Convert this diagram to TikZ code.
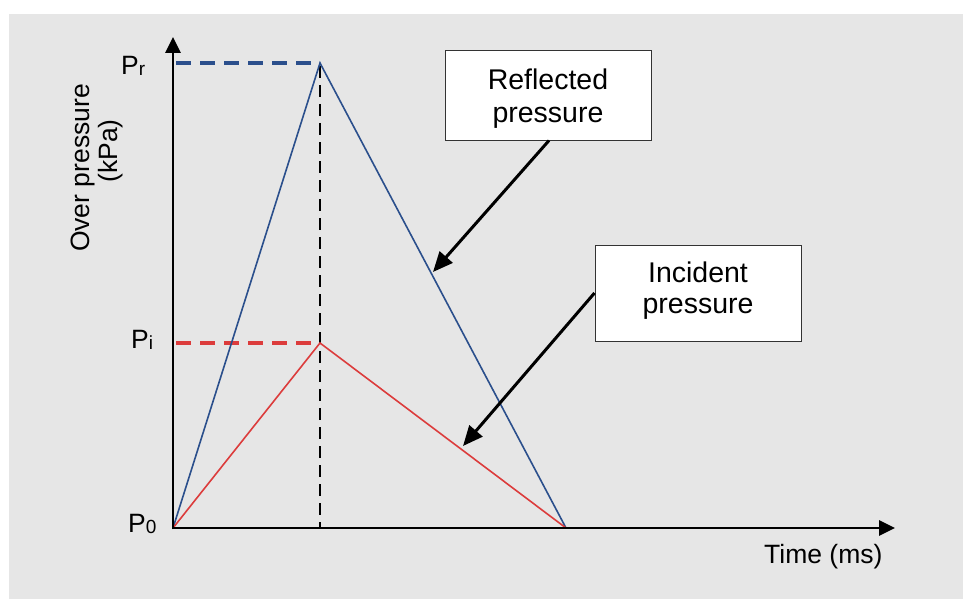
\documentclass[tikz,border=0pt]{standalone}
\usepackage{fontspec}
\setmainfont{Liberation Sans}
\usetikzlibrary{arrows.meta}
\definecolor{bg}{HTML}{E6E6E6}
\definecolor{pblue}{HTML}{2B4F8C}
\definecolor{pred}{HTML}{DC3C3C}
\definecolor{boxline}{HTML}{333333}
\begin{document}
\begin{tikzpicture}[x=1pt,y=-1pt,
  axisline/.style={line width=2.7pt,-{Triangle[length=16pt,width=15pt]}},
  callout/.style={line width=3pt,-{Triangle[length=20pt,width=17pt]}},
  lbl/.style={font=\fontsize{26.5}{30}\selectfont, inner sep=0pt},
  infobox/.style={draw=boxline, fill=white, line width=1pt, minimum width=206pt,
    align=center, inner sep=0pt},
  curveR/.style={pblue, line width=1.6pt, line join=miter},
  curveI/.style={pred, line width=1.6pt, line join=miter},
  levR/.style={pblue, line width=4.5pt, dash pattern=on 15pt off 9pt},
  levI/.style={pred, line width=4.5pt, dash pattern=on 15pt off 9pt},
  peakline/.style={black, line width=2.6pt, dash pattern=on 12pt off 7pt}
]
\useasboundingbox (0,0) rectangle (963,599);
\fill[bg] (9,14) rectangle (963,599);

% key points
\coordinate (O) at (173,528);
\coordinate (ytop) at (173,37);
\coordinate (xend) at (895,528);
\coordinate (pkR) at (320,63);
\coordinate (pkI) at (320,343);
\coordinate (lvR) at (176,63);
\coordinate (lvI) at (176,343);
\coordinate (pkB) at (320,528);
\coordinate (pkT) at (320,66);
\coordinate (E) at (566,528);
\coordinate (tipR) at (433,272);
\coordinate (tipI) at (463,446);

% dashed levels
\draw[levR] (lvR) -- (pkR);
\draw[levI] (lvI) -- (pkI);
\draw[peakline] (pkT) -- (pkB);

% pressure curves
\draw[curveR] (O) -- (pkR) -- (E);
\draw[curveI] (O) -- (pkI) -- (E);

% axes
\draw[axisline] (O) ++(0,1.3) coordinate (Oy) (Oy) -- (ytop);
\draw[axisline] (O) -- (xend);

% axis labels
\node[lbl, anchor=base west] (Pr) at (121,75) {P\raisebox{-1pt}{\fontsize{19}{20}\selectfont r}};
\node[lbl, anchor=base west] (Pi) at (131,348) {P\raisebox{-1pt}{\fontsize{19}{20}\selectfont i}};
\node[lbl, anchor=base west] (P0) at (128,532) {P\raisebox{-1pt}{\fontsize{19}{20}\selectfont 0}};
\node[lbl, anchor=base west] (tlab) at (764,563) {Time (ms)};
\node[lbl, anchor=base, rotate=90] (ylab1) at (89,168) {Over pressure};
\node[lbl, anchor=base, rotate=90] (ylab2) at (117,151) {(kPa)};

% callout boxes
\node[infobox, minimum height=89pt, text depth=0pt, font=\fontsize{28.5}{33}\selectfont] (refl) at (548,95.5) {Reflected\\pressure};
\node[infobox, minimum height=96pt, text depth=11pt, font=\fontsize{28.5}{31}\selectfont] (inc) at (698,293) {Incident\\pressure};

\draw[callout] (refl.south) ++(1,0) coordinate (rs) (rs) -- (tipR);
\draw[callout] (inc.west) -- (tipI);
\end{tikzpicture}
\end{document}
